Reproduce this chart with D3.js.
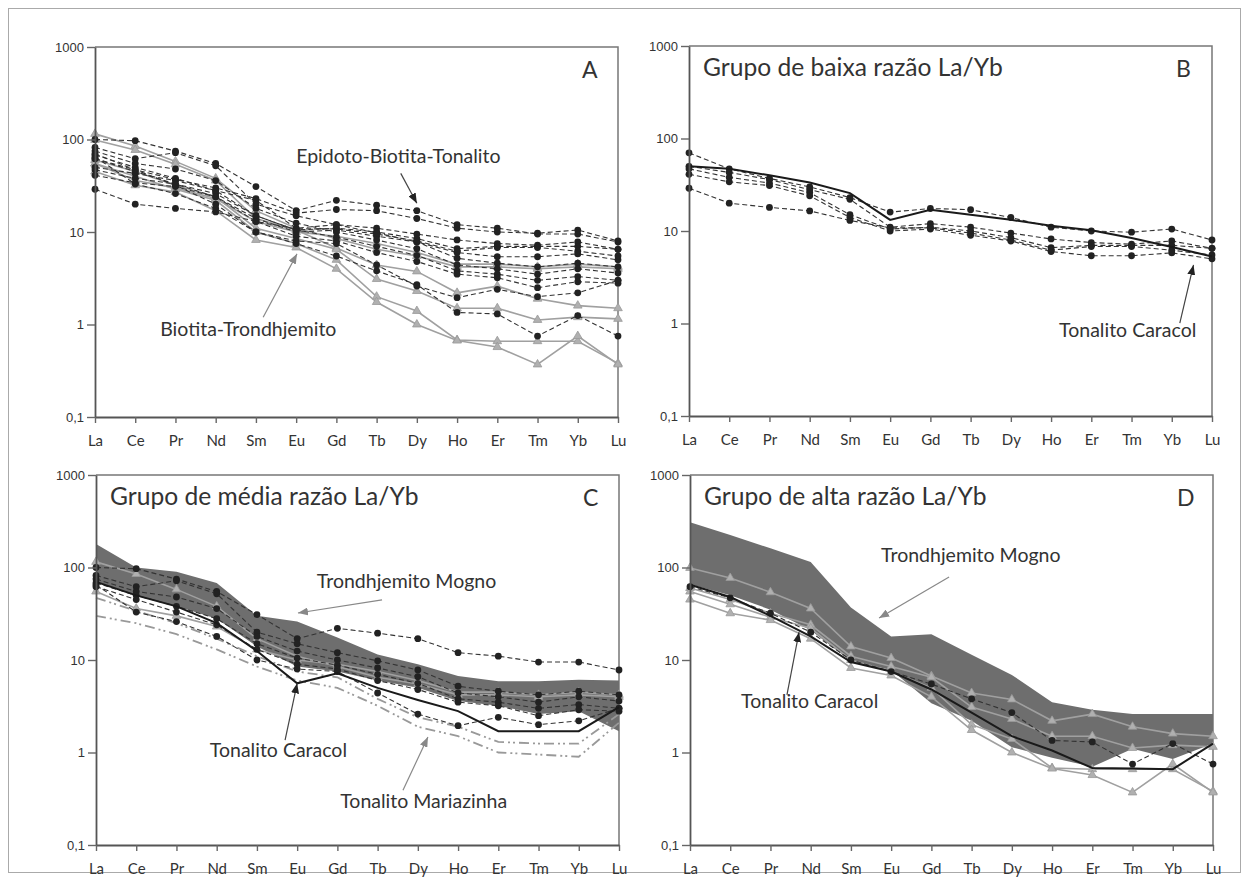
<!DOCTYPE html>
<html lang="pt">
<head>
<meta charset="UTF-8">
<title>Padrões de ETR</title>
<script src="https://d3js.org/d3.v7.min.js"></script>
<style>
  body { margin: 0; background: #fff; }
  svg { display: block; }
  .yaxis text { font-family: "Liberation Sans", Arial, sans-serif; font-size: 13px; fill: #333; }
  .xaxis text { font-family: Lato, "Open Sans", sans-serif; font-size: 15px; fill: #333; }
  .lbl { font-family: Lato, "Open Sans", sans-serif; fill: #333; }
</style>
</head>
<body>
<svg width="1249" height="880"></svg>
<script>
// elementos terras raras (eixo x) e rótulos do eixo log
const elements = ["La", "Ce", "Pr", "Nd", "Sm", "Eu", "Gd", "Tb", "Dy", "Ho", "Er", "Tm", "Yb", "Lu"];
const yTicks = [1000, 100, 10, 1, 0.1];
const yTickLabels = ["1000", "100", "10", "1", "0,1"];

// B - grupo de baixa razão La/Yb
const bDashed = [
  [70, 47, 37, 30, 23, 16, 17.5, 17, 14, 11, 10, 9.7, 10.5, 8],
  [50, 43, 36, 28, 22, 11, 12, 11, 9.5, 8.2, 7.5, 7.2, 7.8, 6.5],
  [47, 38, 33, 26, 15, 10.5, 11, 10, 8.5, 6.6, 7, 7, 7, 6.5],
  [41, 34, 31, 24, 14, 10, 10.5, 9, 7.8, 6, 5.4, 5.4, 5.8, 5],
  [29, 20, 18, 16.5, 13, 10.8, 10.8, 9.5, 8, 6.2, 6.8, 6.8, 6.2, 5.5]
];
const bCaracol = [50, 47, 40, 33.5, 25.7, 13.2, 17, 15, 13.2, 11.4, 10.2, 8.4, 6.7, 5.3];

// C - grupo de média razão La/Yb
const cMognoUpper = [180, 100, 90, 68, 30, 26, 17.5, 11.5, 9, 6.7, 5.9, 5.9, 6.1, 6];
const cMognoLower = [70, 50, 38, 28, 14, 8.5, 7.5, 6, 5, 3.6, 3.2, 2.6, 2.8, 1.7];
const cDashed = [
  [100, 97, 75, 55, 31, 17, 22, 19.5, 17, 12, 11, 9.5, 9.5, 7.8],
  [82, 62, 72, 52, 20, 15, 12, 9.8, 7.8, 5.2, 4.6, 4.2, 4.6, 4.2],
  [75, 55, 48, 36, 18, 12.5, 10, 8.2, 6.6, 4.4, 4, 3.5, 4, 3.6],
  [68, 50, 38, 28, 15, 10.5, 8.8, 7, 5.6, 3.8, 3.5, 3, 3.3, 3],
  [62, 45, 33, 24, 13, 9, 8, 6, 4.8, 3.5, 3.2, 2.5, 2.9, 2.8],
  [65, 33, 26, 18, 10, 8, 7.5, 4.4, 2.6, 1.95, 2.4, 2, 2.2, 3]
];
const cGrey = [
  [115, 85, 58, 38, 17, 11, 8.5, 6.5, 5.5, 4.2, 4.2, 4, 4.2, 4],
  [55, 36, 30, 23, 13, 10, 9, 7.5, 6, 4.5, 4.5, 4.2, 4.5, 4.2]
];
const cCaracol = [70, 50, 38, 25, 12.5, 5.6, 7.2, 5, 3.7, 2.8, 1.7, 1.7, 1.7, 3.1];
const cMariazinha = [
  [47, 34, 25, 17, 11, 7.5, 6.5, 3.8, 2.4, 1.9, 1.3, 1.25, 1.25, 2.6],
  [30, 25, 19, 13, 8.5, 6, 5, 3.2, 1.9, 1.5, 1.0, 0.95, 0.9, 2.1]
];

// D - grupo de alta razão La/Yb
const dMognoUpper = [309, 224, 161, 115, 37, 18, 19, 11.4, 6.9, 3.5, 2.9, 2.6, 2.6, 2.6];
const dMognoLower = [66, 50, 35, 21, 9.7, 7.8, 3.4, 2.2, 1.14, 0.88, 0.7, 1.1, 0.85, 1.25];
const dDashed = [
  [62, 47, 32, 20, 10, 7.5, 5.5, 3.8, 2.7, 1.35, 1.3, 0.75, 1.25, 0.75]
];
const dGrey = [
  [99, 77, 54, 36, 14, 10.5, 6.7, 4.4, 3.75, 2.2, 2.6, 1.9, 1.6, 1.5],
  [60, 45, 32, 24, 11, 8.5, 6.5, 3.1, 2.3, 1.5, 1.5, 1.12, 1.2, 1.15],
  [55, 40, 29, 22, 10, 7.5, 5, 2.0, 1.4, 0.68, 0.66, 0.66, 0.66, 0.38],
  [45, 32, 27, 17, 8.2, 6.8, 4, 1.75, 1.0, 0.67, 0.57, 0.37, 0.75, 0.37]
];
const dCaracol = [65, 48, 30, 18, 9.5, 7.5, 4.8, 2.7, 1.5, 1.05, 0.68, 0.67, 0.66, 1.25];

// A - todas as amostras
const aDashed = bDashed.concat(cDashed, dDashed);
const aGrey = cGrey.concat(dGrey);

const W = 523, H = 370;
const svg = d3.select("svg");

svg.append("rect")
  .attr("x", 8.5).attr("y", 8.5)
  .attr("width", 1232).attr("height", 864)
  .attr("fill", "none").attr("stroke", "#aaa");

const defs = svg.append("defs");
[["ahBlack", "#222"], ["ahGrey", "#888"]].forEach(([id, c]) => {
  defs.append("marker")
    .attr("id", id)
    .attr("viewBox", "0 0 10 8")
    .attr("refX", 10).attr("refY", 4)
    .attr("markerWidth", 10).attr("markerHeight", 8)
    .attr("markerUnits", "userSpaceOnUse")
    .attr("orient", "auto")
    .append("path").attr("d", "M0,0 L10,4 L0,8 Z").attr("fill", c);
});

const panels = [
  {
    x: 95, y: 47, letter: "A", dashed: aDashed, grey: aGrey,
    notes: [
      { text: "Epidoto-Biotita-Tonalito", at: [5.0, 56], from: [7.6, 43], to: [8.0, 20.5], marker: "ahBlack", stroke: "#444" },
      { text: "Biotita-Trondhjemito", at: [1.62, 0.75], from: [4.18, 1.2], to: [5.02, 5.8], marker: "ahGrey", stroke: "#888" }
    ]
  },
  {
    x: 689, y: 46, letter: "B", title: "Grupo de baixa razão La/Yb", dashed: bDashed, black: bCaracol,
    notes: [
      { text: "Tonalito Caracol", at: [9.2, 0.714], from: [12.2, 1.01], to: [12.54, 4.3], marker: "ahBlack", stroke: "#444" }
    ]
  },
  {
    x: 96, y: 475, letter: "C", title: "Grupo de média razão La/Yb",
    field: [cMognoLower, cMognoUpper], dashed: cDashed, grey: cGrey, black: cCaracol, maria: cMariazinha,
    notes: [
      { text: "Trondhjemito Mogno", at: [5.49, 60], from: [7.11, 44.6], to: [5.02, 32.2], marker: "ahGrey", stroke: "#888" },
      { text: "Tonalito Caracol", at: [2.83, 0.89], from: [4.7, 1.36], to: [5.0, 5.6], marker: "ahBlack", stroke: "#444" },
      { text: "Tonalito Mariazinha", at: [6.07, 0.25], from: [7.63, 0.39], to: [8.25, 1.47], marker: "ahGrey", stroke: "#888" }
    ]
  },
  {
    x: 690, y: 475, letter: "D", title: "Grupo de alta razão La/Yb",
    field: [dMognoLower, dMognoUpper], dashed: dDashed, grey: dGrey, black: dCaracol,
    notes: [
      { text: "Trondhjemito Mogno", at: [4.75, 115], from: [6.44, 79], to: [4.7, 28.4], marker: "ahGrey", stroke: "#888" },
      { text: "Tonalito Caracol", at: [1.27, 3.0], from: [2.41, 4.2], to: [2.71, 20], marker: "ahBlack", stroke: "#444" }
    ]
  }
];

panels.forEach(p => {
  const g = svg.append("g").attr("transform", `translate(${p.x},${p.y})`);
  const x = d3.scaleLinear().domain([0, 13]).range([0, W]);
  const y = d3.scaleLog().domain([0.1, 1000]).range([H, 0]);
  const line = d3.line().x((d, i) => x(i)).y(d => y(d));

  // bordas de cima e da direita
  g.append("path")
    .attr("d", `M0,0H${W}V${H}`)
    .attr("fill", "none").attr("stroke", "#777").attr("stroke-width", 1.5);

  if (p.field) {
    const area = d3.area()
      .x((d, i) => x(i))
      .y0(d => y(d[0]))
      .y1(d => y(d[1]));
    g.append("path")
      .attr("d", area(d3.zip(p.field[0], p.field[1])))
      .attr("fill", "#6e6e6e");
  }

  if (p.maria) {
    g.selectAll(".maria").data(p.maria).enter().append("path")
      .attr("class", "maria")
      .attr("d", line)
      .attr("fill", "none").attr("stroke", "#999")
      .attr("stroke-width", 1.8).attr("stroke-dasharray", "10,4,2,3,2,4");
  }

  if (p.grey) {
    p.grey.forEach(s => {
      g.append("path").attr("d", line(s))
        .attr("fill", "none").attr("stroke", "#a0a0a0").attr("stroke-width", 1.6);
      g.selectAll(null).data(s).enter().append("path")
        .attr("d", d3.symbol(d3.symbolTriangle).size(32))
        .attr("transform", (d, i) => `translate(${x(i)},${y(d)})`)
        .attr("fill", "#b0b0b0").attr("stroke", "#999").attr("stroke-width", 0.8);
    });
  }

  if (p.dashed) {
    p.dashed.forEach(s => {
      g.append("path").attr("d", line(s))
        .attr("fill", "none").attr("stroke", "#333")
        .attr("stroke-width", 1.1).attr("stroke-dasharray", "5,3");
      g.selectAll(null).data(s).enter().append("circle")
        .attr("cx", (d, i) => x(i)).attr("cy", d => y(d))
        .attr("r", 3.4).attr("fill", "#222");
    });
  }

  if (p.black) {
    g.append("path").attr("d", line(p.black))
      .attr("fill", "none").attr("stroke", "#1a1a1a").attr("stroke-width", 2);
  }

  // eixos
  const ya = g.append("g").attr("class", "yaxis")
    .call(d3.axisLeft(y).tickValues(yTicks)
      .tickFormat((d, i) => yTickLabels[i]).tickSize(8).tickSizeOuter(0).tickPadding(3));
  const xa = g.append("g").attr("class", "xaxis")
    .attr("transform", `translate(0,${H})`)
    .call(d3.axisBottom(x).tickValues(d3.range(13 + 1))
      .tickFormat(i => elements[i]).tickSize(6).tickSizeOuter(0).tickPadding(12));
  [ya, xa].forEach(a => {
    a.select(".domain").attr("stroke", "#555").attr("stroke-width", 1.8);
    a.selectAll(".tick line").attr("stroke", "#666").attr("stroke-width", 1.4);
  });

  if (p.title) {
    g.append("text").attr("class", "lbl")
      .attr("x", 14).attr("y", 30)
      .attr("font-size", 24.6).text(p.title);
  }
  g.append("text").attr("class", "lbl")
    .attr("x", W - 36).attr("y", 31)
    .attr("font-size", 23).text(p.letter);

  p.notes.forEach(n => {
    g.append("line")
      .attr("x1", x(n.from[0])).attr("y1", y(n.from[1]))
      .attr("x2", x(n.to[0])).attr("y2", y(n.to[1]))
      .attr("stroke", n.stroke).attr("stroke-width", 1.2)
      .attr("marker-end", `url(#${n.marker})`);
    g.append("text").attr("class", "lbl")
      .attr("x", x(n.at[0])).attr("y", y(n.at[1]))
      .attr("font-size", 19.5).text(n.text);
  });
});
</script>
</body>
</html>
